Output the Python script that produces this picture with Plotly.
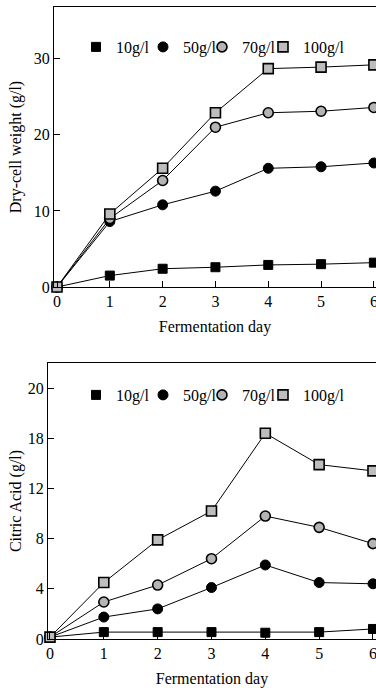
import plotly.graph_objects as go

days = [0, 1, 2, 3, 4, 5, 6]
series_names = ["10g/l", "50g/l", "70g/l", "100g/l"]

dry_10 = [0, 1.5, 2.4, 2.6, 2.9, 3.0, 3.2]
dry_50 = [0, 8.6, 10.8, 12.6, 15.6, 15.8, 16.3]
dry_70 = [0, 9.0, 14.0, 21.0, 22.9, 23.1, 23.6]
dry_100 = [0, 9.6, 15.6, 22.9, 28.7, 28.9, 29.2]

cit_10 = [0.15, 0.55, 0.55, 0.55, 0.5, 0.55, 0.8]
cit_50 = [0.15, 1.75, 2.4, 4.1, 5.9, 4.5, 4.4]
cit_70 = [0.15, 2.95, 4.3, 6.4, 9.8, 8.9, 7.6]
cit_100 = [0.15, 4.5, 7.9, 10.2, 16.4, 13.9, 13.4]

dry_ticks = [0, 10, 20, 30]
cit_tickvals = [0, 4, 8, 12, 16, 20]
cit_ticktext = ["0", "4", "8", "12", "18", "20"]

W, H = 376, 688
FONT = "Liberation Serif"


def px_x(v):
    return min(max(v / W, 0.0), 1.0)


def px_y(v):
    return min(max(1 - v / H, 0.0), 1.0)


marker_styles = [
    dict(symbol="square", size=9, color="black", line=dict(color="black", width=1)),
    dict(symbol="circle", size=10, color="black", line=dict(color="black", width=1)),
    dict(symbol="circle", size=10, color="#b4b4b4", line=dict(color="black", width=1.6)),
    dict(symbol="square", size=10, color="#bdbdbd", line=dict(color="black", width=1.6)),
]

fig = go.Figure()

panels = [
    ([dry_10, dry_50, dry_70, dry_100], "x", "y", 1),
    ([cit_10, cit_50, cit_70, cit_100], "x2", "y2", 5),
]

for data, xa, ya, leg0 in panels:
    for vals in data:
        fig.add_trace(go.Scatter(x=days, y=vals, mode="lines", xaxis=xa, yaxis=ya,
                                 line=dict(color="black", width=1), showlegend=False,
                                 hoverinfo="skip", cliponaxis=False))
    for i, (vals, name) in enumerate(zip(data, series_names)):
        leg = "legend" if leg0 + i == 1 else f"legend{leg0 + i}"
        fig.add_trace(go.Scatter(x=days, y=vals, mode="markers", xaxis=xa, yaxis=ya,
                                 marker=marker_styles[i], name=name, legend=leg,
                                 showlegend=True, cliponaxis=False))

# legend positions (window pixels of symbol centre)
sym_top = [96, 163, 222, 283]
sym_bot = [96, 163, 222, 283]
legend_layout = {}
for k in range(8):
    key = "legend" if k == 0 else f"legend{k + 1}"
    sx = sym_top[k] if k < 4 else sym_bot[k - 4]
    sy = 47 if k < 4 else 395
    legend_layout[key] = dict(
        x=px_x(sx - 20), xanchor="left", y=px_y(sy), yanchor="middle",
        bgcolor="rgba(0,0,0,0)", borderwidth=0, itemwidth=30,
        font=dict(family=FONT, size=16, color="black"),
    )

axis_common = dict(showline=True, linecolor="black", linewidth=1, mirror=True,
                   ticks="inside", ticklen=6, tickcolor="black", showgrid=False,
                   zeroline=False, automargin=False,
                   tickfont=dict(family=FONT, size=16, color="black"))

fig.update_layout(
    template="none",
    width=W, height=H, margin=dict(l=0, r=0, t=0, b=0, pad=0, autoexpand=False),
    paper_bgcolor="white", plot_bgcolor="white",
    font=dict(family=FONT, size=16, color="black"),
    xaxis=dict(domain=[px_x(54), 1], range=[-0.057, 6.04], tickvals=days,
               ticklabeloverflow="allow",
               title=dict(text="Fermentation day", standoff=11,
                          font=dict(family=FONT, size=16)), anchor="y", **axis_common),
    yaxis=dict(domain=[px_y(287), px_y(7)], range=[0, 36.8],
               tickvals=dry_ticks,
               title=dict(text="Dry-cell weight (g/l)", standoff=8,
                          font=dict(family=FONT, size=16)), anchor="x", **axis_common),
    xaxis2=dict(domain=[px_x(48), 1], range=[-0.037, 6.056], tickvals=days,
                ticklabeloverflow="allow",
                title=dict(text="Fermentation day", standoff=14,
                           font=dict(family=FONT, size=16)), anchor="y2", **axis_common),
    yaxis2=dict(domain=[px_y(639), px_y(363)], range=[0, 22.0],
                tickvals=cit_tickvals, ticktext=cit_ticktext,
                title=dict(text="Citric Acid (g/l)", standoff=2,
                           font=dict(family=FONT, size=16)), anchor="x2", **axis_common),
    **legend_layout,
)

page_css = ("document.documentElement.style.margin='0';"
            "document.documentElement.style.overflow='hidden';"
            "document.body.style.margin='0';"
            "document.body.style.overflow='hidden';")

fig.write_html("out.html", post_script=page_css, config={"displayModeBar": False})
